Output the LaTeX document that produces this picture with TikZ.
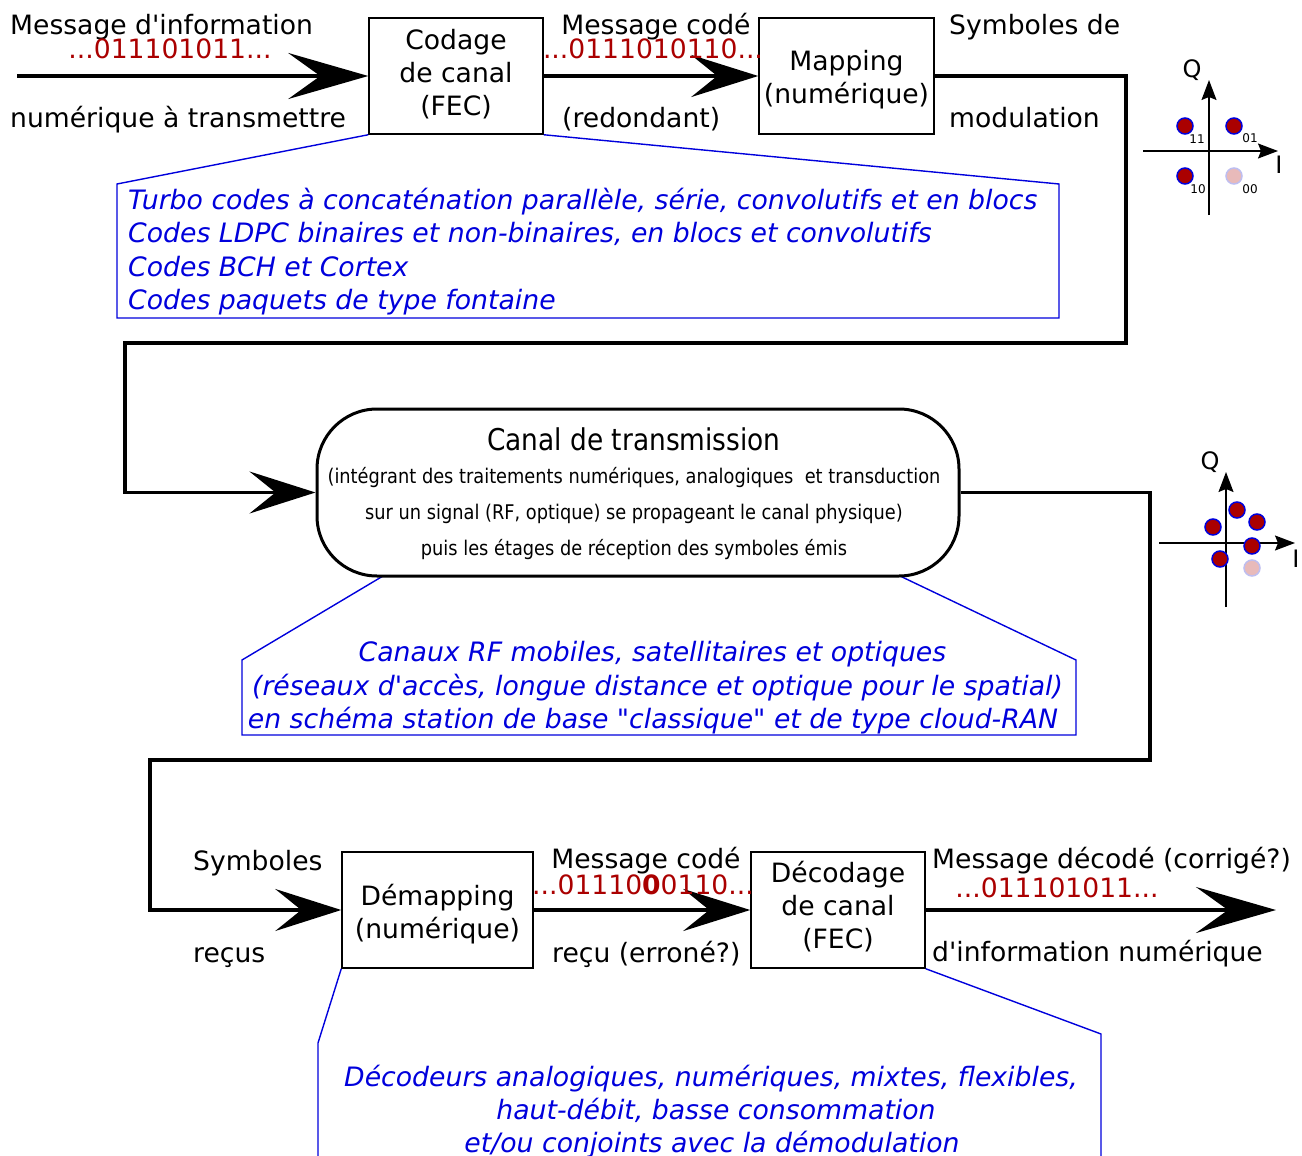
\documentclass[tikz,border=0pt]{standalone}
\usepackage{fontspec}
\setmainfont{DejaVu Sans}[Ligatures=TeXOff]
\newfontfamily\condfont{DejaVu Sans}[Ligatures=TeXOff,FakeStretch=0.88]
\usetikzlibrary{arrows.meta}
\definecolor{dred}{RGB}{170,0,0}
\definecolor{mblue}{RGB}{0,0,220}
\definecolor{palered}{RGB}{232,186,186}
\definecolor{paleblue}{RGB}{190,190,240}
\begin{document}
\begin{tikzpicture}[x=1pt,y=-1pt,
 txt/.style={inner sep=0pt, anchor=base west, font=\fontsize{26.6}{33}\selectfont},
 bits/.style={inner sep=0pt, anchor=base, text=dred, font=\fontsize{26.6}{33}\selectfont},
 note/.style={inner sep=0pt, anchor=base west, text=mblue, font=\fontsize{26.7}{33}\selectfont\itshape},
 notec/.style={note, anchor=base},
 ctitle/.style={inner sep=0pt, anchor=base, font=\condfont\fontsize{30}{36}\selectfont},
 csmall/.style={inner sep=0pt, anchor=base, font=\condfont\fontsize{20.2}{24}\selectfont},
 blk/.style={draw, line width=1.5pt, minimum width=174pt, minimum height=116pt, inner sep=0pt},
 boxtxt/.style={inner sep=0pt, align=center, font=\fontsize{26.6}{33}\selectfont},
 bigarrow/.style={line width=4.5pt, -{Stealth[length=80pt,width=46pt,inset=32pt]}},
 medarrow/.style={line width=4.5pt, -{Stealth[length=67pt,width=42pt,inset=26pt]}},
 route/.style={line width=3.2pt, -{Stealth[length=66pt,width=42pt,inset=26pt]}},
 calloutline/.style={draw=mblue, line width=1.4pt},
 ax/.style={line width=1.3pt, -{Stealth[length=20pt,width=15pt,inset=3pt]}},
 cpt/.style={circle, draw=mblue, fill=dred, line width=1.5pt, minimum size=16pt, inner sep=0pt},
 cptpale/.style={cpt, draw=paleblue, fill=palered},
 axlbl/.style={inner sep=0pt, font=\fontsize{24}{24}\selectfont},
 bitlbl/.style={inner sep=0pt, font=\fontsize{12}{12}\selectfont},
]
\useasboundingbox (0,0) rectangle (1302,1156);

% blocks
\node[blk] (cod) at (456,76) {};
\node[blk, minimum width=175pt] (map) at (846.5,76) {};
\node[blk, minimum width=191pt] (dem) at (437.5,910) {};
\node[blk] (dec) at (838,910) {};
\node[boxtxt] (codt) at (456,74) {Codage\\de canal\\(FEC)};
\node[boxtxt] (mapt) at (846.5,80) {Mapping\\(numérique)};
\node[boxtxt] (demt) at (437.5,914) {Démapping\\(numérique)};
\node[boxtxt] (dect) at (838,907) {Décodage\\de canal\\(FEC)};

% callouts
\draw[calloutline] (cod.south west) -- (117,184) -- (117,318) -- (1059,318) -- (1059,184) -- (cod.south east);
\draw[calloutline] (383,576) -- (242,660) -- (242,735) -- (1076,735) -- (1076,660) -- (900,576);
\draw[calloutline] (dem.south west) -- (318,1043) -- (318,1160);
\draw[calloutline] (dec.south east) -- (1101,1034) -- (1101,1160);

% canal
\node[draw, fill=white, line width=3pt, rounded corners=60pt, minimum width=642pt, minimum height=167pt] (can) at (638,492.5) {};

% coordinates
\coordinate (src) at (17,76);
\coordinate (b1) at (1126,76);
\coordinate (b2) at (1126,343);
\coordinate (b3) at (125,343);
\coordinate (b4) at (125,492.5);
\coordinate (c1) at (1150,492.5);
\coordinate (c2) at (1150,760);
\coordinate (c3) at (150,760);
\coordinate (c4) at (150,910);
\coordinate (dst) at (1276,910);

% connectors
\draw[bigarrow] (src) -- (cod.west);
\draw[medarrow] (cod.east) -- (map.west);
\draw[route] (map.east) -- (b1) -- (b2) -- (b3) -- (b4) -- (can.west);
\draw[route] (can.east) -- (c1) -- (c2) -- (c3) -- (c4) -- (dem.west);
\draw[medarrow] (dem.east) -- (dec.west);
\draw[bigarrow] (dec.east) -- (dst);

% top labels
\node[txt] (l1) at (10,35) {Message d'information};
\node[bits] (l2) at (170,59) {...011101011...};
\node[txt] (l3) at (10,127) {numérique à transmettre};
\node[txt, anchor=base] (l4) at (656,35) {Message codé};
\node[bits] (l5) at (653,59) {...0111010110...};
\node[txt] (l6) at (562,127) {(redondant)};
\node[txt] (l7) at (949,35) {Symboles de};
\node[txt] (l8) at (949,127) {modulation};

% note 1
\node[note] (n1) at (128,209) {Turbo codes à concaténation parallèle, série, convolutifs et en blocs};
\node[note] (n2) at (128,242) {Codes LDPC binaires et non-binaires, en blocs et convolutifs};
\node[note] (n3) at (128,276) {Codes BCH et Cortex};
\node[note] (n4) at (128,309) {Codes paquets de type fontaine};

% canal text
\node[ctitle] (k1) at (634,450) {Canal de transmission};
\node[csmall] (k2) at (634,483) {(intégrant des traitements numériques, analogiques\ \ et transduction};
\node[csmall] (k3) at (634,519) {sur un signal (RF, optique) se propageant le canal physique)};
\node[csmall] (k4) at (634,555) {puis les étages de réception des symboles émis};

% note 2
\node[notec] (m1) at (652.5,661) {Canaux RF mobiles, satellitaires et optiques};
\node[notec] (m2) at (657.5,695) {(réseaux d'accès, longue distance et optique pour le spatial)};
\node[notec] (m3) at (653,728) {en schéma station de base "classique" et de type cloud-RAN};

% bottom labels
\node[txt] (s1) at (193,870) {Symboles};
\node[txt] (s2) at (193,962) {reçus};
\node[txt, anchor=base] (s3) at (646,868) {Message codé};
\node[bits] (s4) at (643,894) {...01110\textbf{0}0110...};
\node[txt] (s5) at (552,962) {reçu (erroné?)};
\node[txt] (s6) at (932,868) {Message décodé (corrigé?)};
\node[bits] (s7) at (1057,897) {...011101011...};
\node[txt] (s8) at (932,961) {d'information numérique};

% note 3
\node[notec] (p1) at (711,1086) {Décodeurs analogiques, numériques, mixtes, flexibles,};
\node[notec] (p2) at (716,1119) {haut-débit, basse consommation};
\node[notec] (p3) at (712,1152) {et/ou conjoints avec la démodulation};

% constellation 1
\draw[ax] (1143,151) -- (1278,151);
\draw[ax] (1209,215) -- (1209,80);
\node[axlbl] (q1) at (1192,70) {Q};
\node[axlbl] (i1) at (1279,165) {I};
\node[cpt] (d11) at (1185,126) {};
\node[cpt] (d01) at (1234,126) {};
\node[cpt] (d10) at (1185,176) {};
\node[cptpale] (d00) at (1234,176) {};
\node[bitlbl] at (1197,139) {11};
\node[bitlbl] at (1250,138) {01};
\node[bitlbl] at (1198,189) {10};
\node[bitlbl] at (1250,189) {00};

% constellation 2
\draw[ax] (1159,543) -- (1295,543);
\draw[ax] (1226,607) -- (1226,472);
\node[axlbl] (q2) at (1210,462) {Q};
\node[axlbl] (i2) at (1296,559) {I};
\node[cpt] at (1237,510) {};
\node[cpt] at (1257,522) {};
\node[cpt] at (1213,527) {};
\node[cpt] at (1252,546) {};
\node[cpt] at (1220,559) {};
\node[cptpale] at (1252,568) {};
\end{tikzpicture}
\end{document}
